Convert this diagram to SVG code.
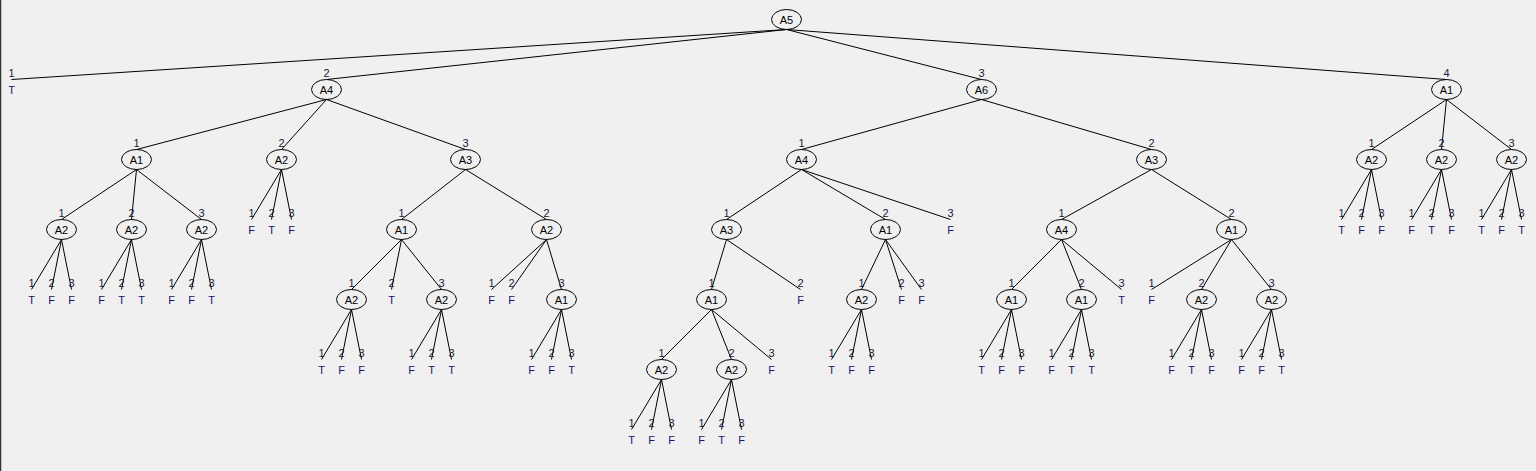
<svg xmlns="http://www.w3.org/2000/svg" width="1536" height="471" viewBox="0 0 1536 471">
<style>
.n ellipse{fill:none;stroke:#000;stroke-width:1}
.n text{font-family:"Liberation Sans",Arial,sans-serif;font-size:11px;fill:#000;text-anchor:middle}
.leaf text{font-family:"Liberation Sans",Arial,sans-serif;font-size:11px;fill:#14146a;text-anchor:middle}
#connectors line{stroke:#000;stroke-width:1}
#edge-labels text{font-family:"Liberation Sans",Arial,sans-serif;font-size:11px;fill:#1a1a3a;text-anchor:middle}
</style>
<rect width="1536" height="471" fill="#f0f0f0"/>
<line x1="0.5" y1="0" x2="0.5" y2="471" stroke="#333" stroke-width="1.5"/>
<g id="connectors">
<line x1="786.5" y1="29.5" x2="11.5" y2="79.5"/>
<line x1="786.5" y1="29.5" x2="326.5" y2="79.5"/>
<line x1="786.5" y1="29.5" x2="981.5" y2="79.5"/>
<line x1="786.5" y1="29.5" x2="1446.5" y2="79.5"/>
<line x1="326.5" y1="99.5" x2="136.5" y2="149.5"/>
<line x1="326.5" y1="99.5" x2="281.5" y2="149.5"/>
<line x1="326.5" y1="99.5" x2="465.5" y2="149.5"/>
<line x1="981.5" y1="99.5" x2="801.5" y2="149.5"/>
<line x1="981.5" y1="99.5" x2="1151.5" y2="149.5"/>
<line x1="1446.5" y1="99.5" x2="1371.5" y2="149.5"/>
<line x1="1446.5" y1="99.5" x2="1441.5" y2="149.5"/>
<line x1="1446.5" y1="99.5" x2="1511.5" y2="149.5"/>
<line x1="136.5" y1="169.5" x2="61.5" y2="219.5"/>
<line x1="136.5" y1="169.5" x2="131.5" y2="219.5"/>
<line x1="136.5" y1="169.5" x2="201.5" y2="219.5"/>
<line x1="281.5" y1="169.5" x2="251.5" y2="219.5"/>
<line x1="281.5" y1="169.5" x2="271.5" y2="219.5"/>
<line x1="281.5" y1="169.5" x2="291.5" y2="219.5"/>
<line x1="465.5" y1="169.5" x2="401.5" y2="219.5"/>
<line x1="465.5" y1="169.5" x2="546.5" y2="219.5"/>
<line x1="801.5" y1="169.5" x2="726.5" y2="219.5"/>
<line x1="801.5" y1="169.5" x2="885.5" y2="219.5"/>
<line x1="801.5" y1="169.5" x2="950.5" y2="219.5"/>
<line x1="1151.5" y1="169.5" x2="1061.5" y2="219.5"/>
<line x1="1151.5" y1="169.5" x2="1231.5" y2="219.5"/>
<line x1="1371.5" y1="169.5" x2="1341.5" y2="219.5"/>
<line x1="1371.5" y1="169.5" x2="1361.5" y2="219.5"/>
<line x1="1371.5" y1="169.5" x2="1381.5" y2="219.5"/>
<line x1="1441.5" y1="169.5" x2="1411.5" y2="219.5"/>
<line x1="1441.5" y1="169.5" x2="1431.5" y2="219.5"/>
<line x1="1441.5" y1="169.5" x2="1451.5" y2="219.5"/>
<line x1="1511.5" y1="169.5" x2="1481.5" y2="219.5"/>
<line x1="1511.5" y1="169.5" x2="1501.5" y2="219.5"/>
<line x1="1511.5" y1="169.5" x2="1521.5" y2="219.5"/>
<line x1="61.5" y1="239.5" x2="31.5" y2="289.5"/>
<line x1="61.5" y1="239.5" x2="51.5" y2="289.5"/>
<line x1="61.5" y1="239.5" x2="71.5" y2="289.5"/>
<line x1="131.5" y1="239.5" x2="101.5" y2="289.5"/>
<line x1="131.5" y1="239.5" x2="121.5" y2="289.5"/>
<line x1="131.5" y1="239.5" x2="141.5" y2="289.5"/>
<line x1="201.5" y1="239.5" x2="171.5" y2="289.5"/>
<line x1="201.5" y1="239.5" x2="191.5" y2="289.5"/>
<line x1="201.5" y1="239.5" x2="211.5" y2="289.5"/>
<line x1="401.5" y1="239.5" x2="351.5" y2="289.5"/>
<line x1="401.5" y1="239.5" x2="391.5" y2="289.5"/>
<line x1="401.5" y1="239.5" x2="441.5" y2="289.5"/>
<line x1="546.5" y1="239.5" x2="491.5" y2="289.5"/>
<line x1="546.5" y1="239.5" x2="511.5" y2="289.5"/>
<line x1="546.5" y1="239.5" x2="561.5" y2="289.5"/>
<line x1="726.5" y1="239.5" x2="711.5" y2="289.5"/>
<line x1="726.5" y1="239.5" x2="800.5" y2="289.5"/>
<line x1="885.5" y1="239.5" x2="861.5" y2="289.5"/>
<line x1="885.5" y1="239.5" x2="901.5" y2="289.5"/>
<line x1="885.5" y1="239.5" x2="921.5" y2="289.5"/>
<line x1="1061.5" y1="239.5" x2="1011.5" y2="289.5"/>
<line x1="1061.5" y1="239.5" x2="1081.5" y2="289.5"/>
<line x1="1061.5" y1="239.5" x2="1121.5" y2="289.5"/>
<line x1="1231.5" y1="239.5" x2="1151.5" y2="289.5"/>
<line x1="1231.5" y1="239.5" x2="1201.5" y2="289.5"/>
<line x1="1231.5" y1="239.5" x2="1271.5" y2="289.5"/>
<line x1="351.5" y1="309.5" x2="321.5" y2="359.5"/>
<line x1="351.5" y1="309.5" x2="341.5" y2="359.5"/>
<line x1="351.5" y1="309.5" x2="361.5" y2="359.5"/>
<line x1="441.5" y1="309.5" x2="411.5" y2="359.5"/>
<line x1="441.5" y1="309.5" x2="431.5" y2="359.5"/>
<line x1="441.5" y1="309.5" x2="451.5" y2="359.5"/>
<line x1="561.5" y1="309.5" x2="531.5" y2="359.5"/>
<line x1="561.5" y1="309.5" x2="551.5" y2="359.5"/>
<line x1="561.5" y1="309.5" x2="571.5" y2="359.5"/>
<line x1="711.5" y1="309.5" x2="661.5" y2="359.5"/>
<line x1="711.5" y1="309.5" x2="731.5" y2="359.5"/>
<line x1="711.5" y1="309.5" x2="771.5" y2="359.5"/>
<line x1="861.5" y1="309.5" x2="831.5" y2="359.5"/>
<line x1="861.5" y1="309.5" x2="851.5" y2="359.5"/>
<line x1="861.5" y1="309.5" x2="871.5" y2="359.5"/>
<line x1="1011.5" y1="309.5" x2="981.5" y2="359.5"/>
<line x1="1011.5" y1="309.5" x2="1001.5" y2="359.5"/>
<line x1="1011.5" y1="309.5" x2="1021.5" y2="359.5"/>
<line x1="1081.5" y1="309.5" x2="1051.5" y2="359.5"/>
<line x1="1081.5" y1="309.5" x2="1071.5" y2="359.5"/>
<line x1="1081.5" y1="309.5" x2="1091.5" y2="359.5"/>
<line x1="1201.5" y1="309.5" x2="1171.5" y2="359.5"/>
<line x1="1201.5" y1="309.5" x2="1191.5" y2="359.5"/>
<line x1="1201.5" y1="309.5" x2="1211.5" y2="359.5"/>
<line x1="1271.5" y1="309.5" x2="1241.5" y2="359.5"/>
<line x1="1271.5" y1="309.5" x2="1261.5" y2="359.5"/>
<line x1="1271.5" y1="309.5" x2="1281.5" y2="359.5"/>
<line x1="661.5" y1="379.5" x2="631.5" y2="429.5"/>
<line x1="661.5" y1="379.5" x2="651.5" y2="429.5"/>
<line x1="661.5" y1="379.5" x2="671.5" y2="429.5"/>
<line x1="731.5" y1="379.5" x2="701.5" y2="429.5"/>
<line x1="731.5" y1="379.5" x2="721.5" y2="429.5"/>
<line x1="731.5" y1="379.5" x2="741.5" y2="429.5"/>
</g>
<g id="edge-labels">
<text x="11.5" y="77">1</text><text x="326.5" y="77">2</text><text x="981.5" y="77">3</text><text x="1446.5" y="77">4</text>
<text x="136.5" y="147">1</text><text x="281.5" y="147">2</text><text x="465.5" y="147">3</text>
<text x="801.5" y="147">1</text><text x="1151.5" y="147">2</text>
<text x="1371.5" y="147">1</text><text x="1441.5" y="147">2</text><text x="1511.5" y="147">3</text>
<text x="61.5" y="217">1</text><text x="131.5" y="217">2</text><text x="201.5" y="217">3</text>
<text x="251.5" y="217">1</text><text x="271.5" y="217">2</text><text x="291.5" y="217">3</text>
<text x="401.5" y="217">1</text><text x="546.5" y="217">2</text>
<text x="726.5" y="217">1</text><text x="885.5" y="217">2</text><text x="950.5" y="217">3</text>
<text x="1061.5" y="217">1</text><text x="1231.5" y="217">2</text>
<text x="1341.5" y="217">1</text><text x="1361.5" y="217">2</text><text x="1381.5" y="217">3</text>
<text x="1411.5" y="217">1</text><text x="1431.5" y="217">2</text><text x="1451.5" y="217">3</text>
<text x="1481.5" y="217">1</text><text x="1501.5" y="217">2</text><text x="1521.5" y="217">3</text>
<text x="31.5" y="287">1</text><text x="51.5" y="287">2</text><text x="71.5" y="287">3</text>
<text x="101.5" y="287">1</text><text x="121.5" y="287">2</text><text x="141.5" y="287">3</text>
<text x="171.5" y="287">1</text><text x="191.5" y="287">2</text><text x="211.5" y="287">3</text>
<text x="351.5" y="287">1</text><text x="391.5" y="287">2</text><text x="441.5" y="287">3</text>
<text x="491.5" y="287">1</text><text x="511.5" y="287">2</text><text x="561.5" y="287">3</text>
<text x="711.5" y="287">1</text><text x="800.5" y="287">2</text>
<text x="861.5" y="287">1</text><text x="901.5" y="287">2</text><text x="921.5" y="287">3</text>
<text x="1011.5" y="287">1</text><text x="1081.5" y="287">2</text><text x="1121.5" y="287">3</text>
<text x="1151.5" y="287">1</text><text x="1201.5" y="287">2</text><text x="1271.5" y="287">3</text>
<text x="321.5" y="357">1</text><text x="341.5" y="357">2</text><text x="361.5" y="357">3</text>
<text x="411.5" y="357">1</text><text x="431.5" y="357">2</text><text x="451.5" y="357">3</text>
<text x="531.5" y="357">1</text><text x="551.5" y="357">2</text><text x="571.5" y="357">3</text>
<text x="661.5" y="357">1</text><text x="731.5" y="357">2</text><text x="771.5" y="357">3</text>
<text x="831.5" y="357">1</text><text x="851.5" y="357">2</text><text x="871.5" y="357">3</text>
<text x="981.5" y="357">1</text><text x="1001.5" y="357">2</text><text x="1021.5" y="357">3</text>
<text x="1051.5" y="357">1</text><text x="1071.5" y="357">2</text><text x="1091.5" y="357">3</text>
<text x="1171.5" y="357">1</text><text x="1191.5" y="357">2</text><text x="1211.5" y="357">3</text>
<text x="1241.5" y="357">1</text><text x="1261.5" y="357">2</text><text x="1281.5" y="357">3</text>
<text x="631.5" y="427">1</text><text x="651.5" y="427">2</text><text x="671.5" y="427">3</text>
<text x="701.5" y="427">1</text><text x="721.5" y="427">2</text><text x="741.5" y="427">3</text>
</g>
<g id="n0" class="n"><ellipse cx="786.5" cy="19.5" rx="15" ry="10"/><text x="786.5" y="23.5">A5</text></g>
<g id="n1" class="n"><ellipse cx="326.5" cy="89.5" rx="15" ry="10"/><text x="326.5" y="93.5">A4</text></g>
<g id="n2" class="n"><ellipse cx="981.5" cy="89.5" rx="15" ry="10"/><text x="981.5" y="93.5">A6</text></g>
<g id="n3" class="n"><ellipse cx="1446.5" cy="89.5" rx="15" ry="10"/><text x="1446.5" y="93.5">A1</text></g>
<g id="n4" class="n"><ellipse cx="136.5" cy="159.5" rx="15" ry="10"/><text x="136.5" y="163.5">A1</text></g>
<g id="n5" class="n"><ellipse cx="281.5" cy="159.5" rx="15" ry="10"/><text x="281.5" y="163.5">A2</text></g>
<g id="n6" class="n"><ellipse cx="465.5" cy="159.5" rx="15" ry="10"/><text x="465.5" y="163.5">A3</text></g>
<g id="n7" class="n"><ellipse cx="801.5" cy="159.5" rx="15" ry="10"/><text x="801.5" y="163.5">A4</text></g>
<g id="n8" class="n"><ellipse cx="1151.5" cy="159.5" rx="15" ry="10"/><text x="1151.5" y="163.5">A3</text></g>
<g id="n9" class="n"><ellipse cx="1371.5" cy="159.5" rx="15" ry="10"/><text x="1371.5" y="163.5">A2</text></g>
<g id="n10" class="n"><ellipse cx="1441.5" cy="159.5" rx="15" ry="10"/><text x="1441.5" y="163.5">A2</text></g>
<g id="n11" class="n"><ellipse cx="1511.5" cy="159.5" rx="15" ry="10"/><text x="1511.5" y="163.5">A2</text></g>
<g id="n12" class="n"><ellipse cx="61.5" cy="229.5" rx="15" ry="10"/><text x="61.5" y="233.5">A2</text></g>
<g id="n13" class="n"><ellipse cx="131.5" cy="229.5" rx="15" ry="10"/><text x="131.5" y="233.5">A2</text></g>
<g id="n14" class="n"><ellipse cx="201.5" cy="229.5" rx="15" ry="10"/><text x="201.5" y="233.5">A2</text></g>
<g id="n15" class="n"><ellipse cx="401.5" cy="229.5" rx="15" ry="10"/><text x="401.5" y="233.5">A1</text></g>
<g id="n16" class="n"><ellipse cx="546.5" cy="229.5" rx="15" ry="10"/><text x="546.5" y="233.5">A2</text></g>
<g id="n17" class="n"><ellipse cx="726.5" cy="229.5" rx="15" ry="10"/><text x="726.5" y="233.5">A3</text></g>
<g id="n18" class="n"><ellipse cx="885.5" cy="229.5" rx="15" ry="10"/><text x="885.5" y="233.5">A1</text></g>
<g id="n19" class="n"><ellipse cx="1061.5" cy="229.5" rx="15" ry="10"/><text x="1061.5" y="233.5">A4</text></g>
<g id="n20" class="n"><ellipse cx="1231.5" cy="229.5" rx="15" ry="10"/><text x="1231.5" y="233.5">A1</text></g>
<g id="n21" class="n"><ellipse cx="351.5" cy="299.5" rx="15" ry="10"/><text x="351.5" y="303.5">A2</text></g>
<g id="n22" class="n"><ellipse cx="441.5" cy="299.5" rx="15" ry="10"/><text x="441.5" y="303.5">A2</text></g>
<g id="n23" class="n"><ellipse cx="561.5" cy="299.5" rx="15" ry="10"/><text x="561.5" y="303.5">A1</text></g>
<g id="n24" class="n"><ellipse cx="711.5" cy="299.5" rx="15" ry="10"/><text x="711.5" y="303.5">A1</text></g>
<g id="n25" class="n"><ellipse cx="861.5" cy="299.5" rx="15" ry="10"/><text x="861.5" y="303.5">A2</text></g>
<g id="n26" class="n"><ellipse cx="1011.5" cy="299.5" rx="15" ry="10"/><text x="1011.5" y="303.5">A1</text></g>
<g id="n27" class="n"><ellipse cx="1081.5" cy="299.5" rx="15" ry="10"/><text x="1081.5" y="303.5">A1</text></g>
<g id="n28" class="n"><ellipse cx="1201.5" cy="299.5" rx="15" ry="10"/><text x="1201.5" y="303.5">A2</text></g>
<g id="n29" class="n"><ellipse cx="1271.5" cy="299.5" rx="15" ry="10"/><text x="1271.5" y="303.5">A2</text></g>
<g id="n30" class="n"><ellipse cx="661.5" cy="369.5" rx="15" ry="10"/><text x="661.5" y="373.5">A2</text></g>
<g id="n31" class="n"><ellipse cx="731.5" cy="369.5" rx="15" ry="10"/><text x="731.5" y="373.5">A2</text></g>
<g id="leaves" class="leaf">
<g id="l1"><text x="11.5" y="93.5">T</text></g>
<g id="l3"><text x="251.5" y="233.5">F</text><text x="271.5" y="233.5">T</text><text x="291.5" y="233.5">F</text>
<text x="950.5" y="233.5">F</text>
<text x="1341.5" y="233.5">T</text><text x="1361.5" y="233.5">F</text><text x="1381.5" y="233.5">F</text>
<text x="1411.5" y="233.5">F</text><text x="1431.5" y="233.5">T</text><text x="1451.5" y="233.5">F</text>
<text x="1481.5" y="233.5">T</text><text x="1501.5" y="233.5">F</text><text x="1521.5" y="233.5">T</text></g>
<g id="l4"><text x="31.5" y="303.5">T</text><text x="51.5" y="303.5">F</text><text x="71.5" y="303.5">F</text>
<text x="101.5" y="303.5">F</text><text x="121.5" y="303.5">T</text><text x="141.5" y="303.5">T</text>
<text x="171.5" y="303.5">F</text><text x="191.5" y="303.5">F</text><text x="211.5" y="303.5">T</text>
<text x="391.5" y="303.5">T</text>
<text x="491.5" y="303.5">F</text><text x="511.5" y="303.5">F</text>
<text x="800.5" y="303.5">F</text>
<text x="901.5" y="303.5">F</text><text x="921.5" y="303.5">F</text>
<text x="1121.5" y="303.5">T</text>
<text x="1151.5" y="303.5">F</text></g>
<g id="l5"><text x="321.5" y="373.5">T</text><text x="341.5" y="373.5">F</text><text x="361.5" y="373.5">F</text>
<text x="411.5" y="373.5">F</text><text x="431.5" y="373.5">T</text><text x="451.5" y="373.5">T</text>
<text x="531.5" y="373.5">F</text><text x="551.5" y="373.5">F</text><text x="571.5" y="373.5">T</text>
<text x="771.5" y="373.5">F</text>
<text x="831.5" y="373.5">T</text><text x="851.5" y="373.5">F</text><text x="871.5" y="373.5">F</text>
<text x="981.5" y="373.5">T</text><text x="1001.5" y="373.5">F</text><text x="1021.5" y="373.5">F</text>
<text x="1051.5" y="373.5">F</text><text x="1071.5" y="373.5">T</text><text x="1091.5" y="373.5">T</text>
<text x="1171.5" y="373.5">F</text><text x="1191.5" y="373.5">T</text><text x="1211.5" y="373.5">F</text>
<text x="1241.5" y="373.5">F</text><text x="1261.5" y="373.5">F</text><text x="1281.5" y="373.5">T</text></g>
<g id="l6"><text x="631.5" y="443.5">T</text><text x="651.5" y="443.5">F</text><text x="671.5" y="443.5">F</text>
<text x="701.5" y="443.5">F</text><text x="721.5" y="443.5">T</text><text x="741.5" y="443.5">F</text></g>
</g>
</svg>
